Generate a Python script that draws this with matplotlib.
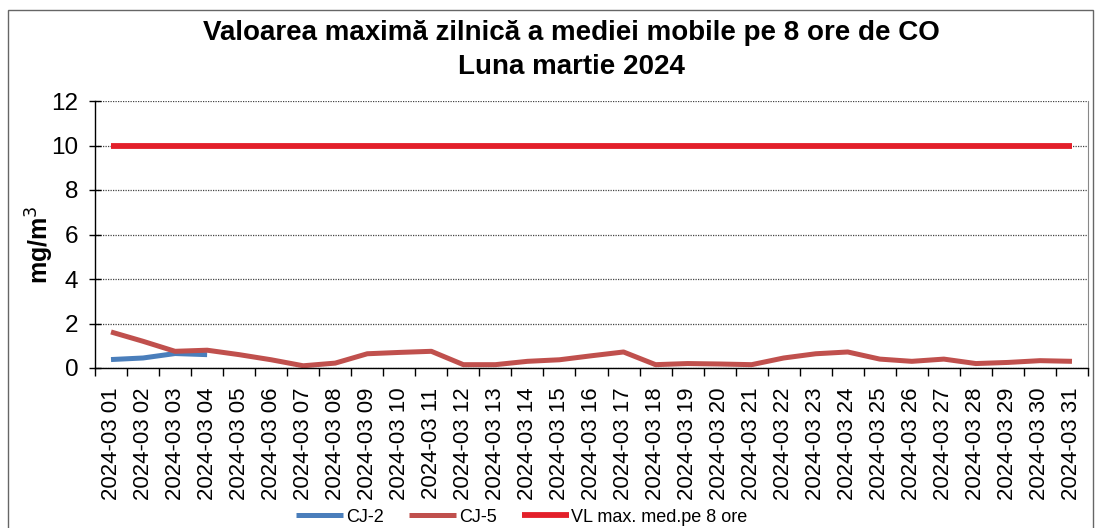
import numpy as np
import matplotlib.pyplot as plt
from matplotlib.patches import Rectangle

plt.rcParams['font.family'] = ['Liberation Sans', 'DejaVu Sans']

# Data
dates = ['2024-03 %02d' % d for d in range(1, 32)]
cj2 = [0.38, 0.45, 0.65, 0.6]
cj5 = [1.62, 1.2, 0.75, 0.8, 0.6, 0.37, 0.1, 0.22, 0.64, 0.7,
       0.75, 0.15, 0.15, 0.3, 0.37, 0.55, 0.72, 0.15, 0.2, 0.18,
       0.15, 0.45, 0.64, 0.72, 0.4, 0.3, 0.4, 0.2, 0.25, 0.33, 0.3]
vl = [10] * 31
yticks = [0, 2, 4, 6, 8, 10, 12]

fig = plt.figure(figsize=(10.98, 5.28), dpi=100)
ax = fig.add_axes([95 / 1098, 1 - 368 / 528, (1088 - 95) / 1098, (368 - 101) / 528])

x = np.arange(len(dates))
l1, = ax.plot(x[:len(cj2)], cj2, color='#4a7ebb', lw=3.6, solid_capstyle='butt', label='CJ-2')
l2, = ax.plot(x, cj5, color='#c0504d', lw=3.6, solid_capstyle='butt', label='CJ-5')
l3, = ax.plot(x, vl, color='#e3202a', lw=4.2, solid_capstyle='butt', label='VL max. med.pe 8 ore')

ax.set_xlim(-0.5, len(dates) - 0.5)
ax.set_ylim(0, 12)
ax.set_yticks(yticks)
ax.tick_params(axis='y', labelsize=17.5, direction='inout', length=8, width=1, pad=8)
ax.set_xticks(x)
ax.set_xticklabels(dates, rotation=90, fontsize=16)
ax.tick_params(axis='x', which='major', length=0, pad=14)
ax.set_xticks(np.arange(len(dates) + 1) - 0.5, minor=True)
ax.tick_params(axis='x', which='minor', direction='out', length=6, width=1)

ax.grid(axis='y', color='#444444', linestyle=(0, (1, 1)), linewidth=0.9)
ax.set_axisbelow(True)
ax.spines['top'].set_visible(False)
ax.spines['right'].set_color('#888888')
ax.spines['right'].set_linewidth(0.8)
ax.spines['left'].set_linewidth(1)
ax.spines['bottom'].set_linewidth(1)

fig.text(40 / 1098, 1 - 245 / 528, 'mg/m$^3$', rotation=90, fontsize=18,
         fontweight='bold', ha='center', va='center')
fig.text(571 / 1098, 1 - 50 / 528,
         'Valoarea maximă zilnică a mediei mobile pe 8 ore de CO\nLuna martie 2024',
         fontsize=20, fontweight='bold', ha='center', va='center', linespacing=1.45)

fig.legend(handles=[l1, l2, l3], loc='center', bbox_to_anchor=(522 / 1098, 1 - 517 / 528),
           ncol=3, frameon=False, fontsize=13, handlelength=2.6, handletextpad=0.15,
           columnspacing=1.4)

# outer chart frame
fig.patches.append(Rectangle((8 / 1098, -0.02), (1093 - 8) / 1098, 1 - 10 / 528 + 0.02,
                             transform=fig.transFigure, fill=False,
                             edgecolor='#666666', linewidth=1))

fig.savefig('out.png', dpi=100)
